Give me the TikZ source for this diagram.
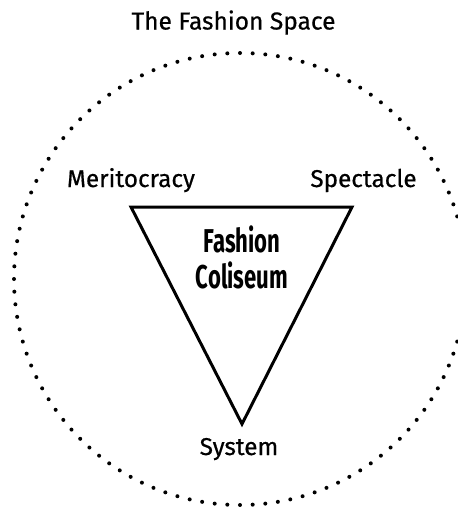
\documentclass[tikz,border=0pt]{standalone}
\usepackage{fontspec}
\setmainfont{Fira Sans}[FakeBold=0.6]
\newfontfamily\condbold[FakeStretch=0.67]{Fira Sans Bold}
\begin{document}
\begin{tikzpicture}[x=1pt,y=1pt,
  label text/.style={font=\fontsize{24.3}{28}\selectfont, anchor=base, inner sep=0pt},
  title text/.style={font=\fontsize{24.5}{28}\selectfont, anchor=base, inner sep=0pt},
  core text/.style={font=\condbold\fontsize{33}{36}\selectfont, align=center, inner sep=0pt},
  dotted ring/.style={line width=4pt, line cap=round, dash pattern=on 0pt off 12.68pt},
  funnel/.style={line width=3pt, line join=miter}]
\useasboundingbox (0,0) rectangle (458,-507);

% the surrounding space
\draw[dotted ring] (240,-279) circle [radius=226];
\node[title text] (space) at (233.5,-29.5) {The Fashion Space};

% inverted triangle
\coordinate (tl) at (131,-207);
\coordinate (tr) at (352,-207);
\coordinate (bt) at (242,-424);
\draw[funnel] (tl) -- (tr) -- (bt) -- cycle;

\node[core text, anchor=base] (fashion) at (242,-252) {Fashion};
\node[core text, anchor=base] (coliseum) at (242,-288) {Coliseum};

% corner labels
\node[label text] (merit) at (131,-187) {Meritocracy};
\node[label text] (spect) at (363.5,-187) {Spectacle};
\node[label text] (sys) at (239,-455) {System};
\end{tikzpicture}
\end{document}
